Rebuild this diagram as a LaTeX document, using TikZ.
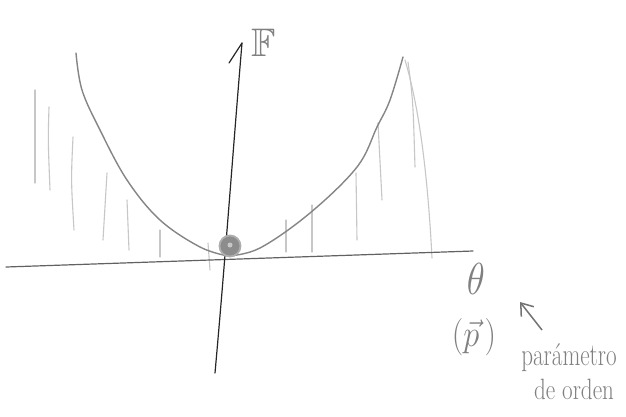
\documentclass[tikz,border=0pt]{standalone}
\usepackage{amssymb}
\usepackage{graphicx}
\usetikzlibrary{arrows.meta}
\begin{document}
\begin{tikzpicture}[x=1pt,y=-1pt,
  hatch/.style={draw=black!22, line width=1.1pt, line cap=round},
  curve/.style={draw=black!48, line width=1.4pt, line cap=round},
  haxis/.style={draw=black!62, line width=1.2pt, line cap=round},
  vaxis/.style={draw=black!85, line width=1.2pt, line cap=round},
  lbl/.style={text=black!50, inner sep=0pt}]
\useasboundingbox (0,0) rectangle (626,416);
\fill[white] (0,0) rectangle (626,416);
% hatching left
\draw[hatch] (35,90) -- (35,183);
\draw[hatch] (49,107) .. controls (48,140) .. (50,190);
\draw[hatch] (73,137) .. controls (71,180) .. (74,230);
\draw[hatch] (107,173) -- (103,240);
\draw[hatch] (127,200) -- (129,250);
\draw[hatch] (160,230) -- (160,257);
\draw[hatch] (208,243) -- (210,270);
% hatching right
\draw[hatch] (286,220) -- (286,252);
\draw[hatch] (312,205) -- (312,252);
\draw[hatch] (356,173) -- (357,240);
\draw[hatch] (378,123) -- (382,200);
\draw[hatch] (408,62) .. controls (413,100) .. (415,167);
\draw[hatch] (405,60) .. controls (420,110) and (428,180) .. (432,258);
% axes
\coordinate (hl) at (6,267);
\coordinate (hr) at (473,251);
\draw[haxis] (hl) -- (hr);
\coordinate (vb) at (215,373);
\coordinate (vt) at (242,43);
\coordinate (vbarb) at (229,63);
\draw[vaxis] (vb) .. controls (226,250) and (233,150) .. (vt);
\draw[vaxis] (vt) -- (vbarb);
% curve
\draw[curve] plot[smooth, tension=0.6] coordinates {(76,53) (82,90) (100,130) (127,180) (160,220) (200,247) (228,256)};
\draw[curve] plot[smooth, tension=0.6] coordinates {(228,256) (260,248) (310,213) (357,167) (377,127) (390,100) (403,57)};
% dot
\node[circle, fill=black!45, draw=black!32, line width=1.8pt, minimum size=21pt, inner sep=0pt] (dot) at (230,246) {};
\node[circle, fill=black!22, minimum size=5pt, inner sep=0pt] (dotc) at (230,245) {};
% labels
\node[lbl] (F) at (264,43) {\scalebox{1.6}{\fontsize{24.88}{25}\selectfont$\mathbb{F}$}};
\node[lbl] (theta) at (476,279) {\scalebox{1.5}[1.8]{\fontsize{24.88}{25}\selectfont$\theta$}};
\node[lbl] (p) at (474,337) {\scalebox{1.3}[1.5]{\fontsize{24.88}{25}\selectfont$(\vec{p}\,)$}};
\node[lbl] (par) at (569,358) {\scalebox{1.1}[1.5]{\fontsize{21}{21}\selectfont parámetro}};
\node[lbl] (orden) at (574,389) {\scalebox{1.1}[1.4]{\fontsize{21}{21}\selectfont de orden}};
\coordinate (ae) at (542,330);
\coordinate (at) at (520,302);
\draw[draw=black!55, line width=1.5pt, -{Straight Barb[length=11pt,width=16pt]}] (ae) -- (at);
\end{tikzpicture}
\end{document}
